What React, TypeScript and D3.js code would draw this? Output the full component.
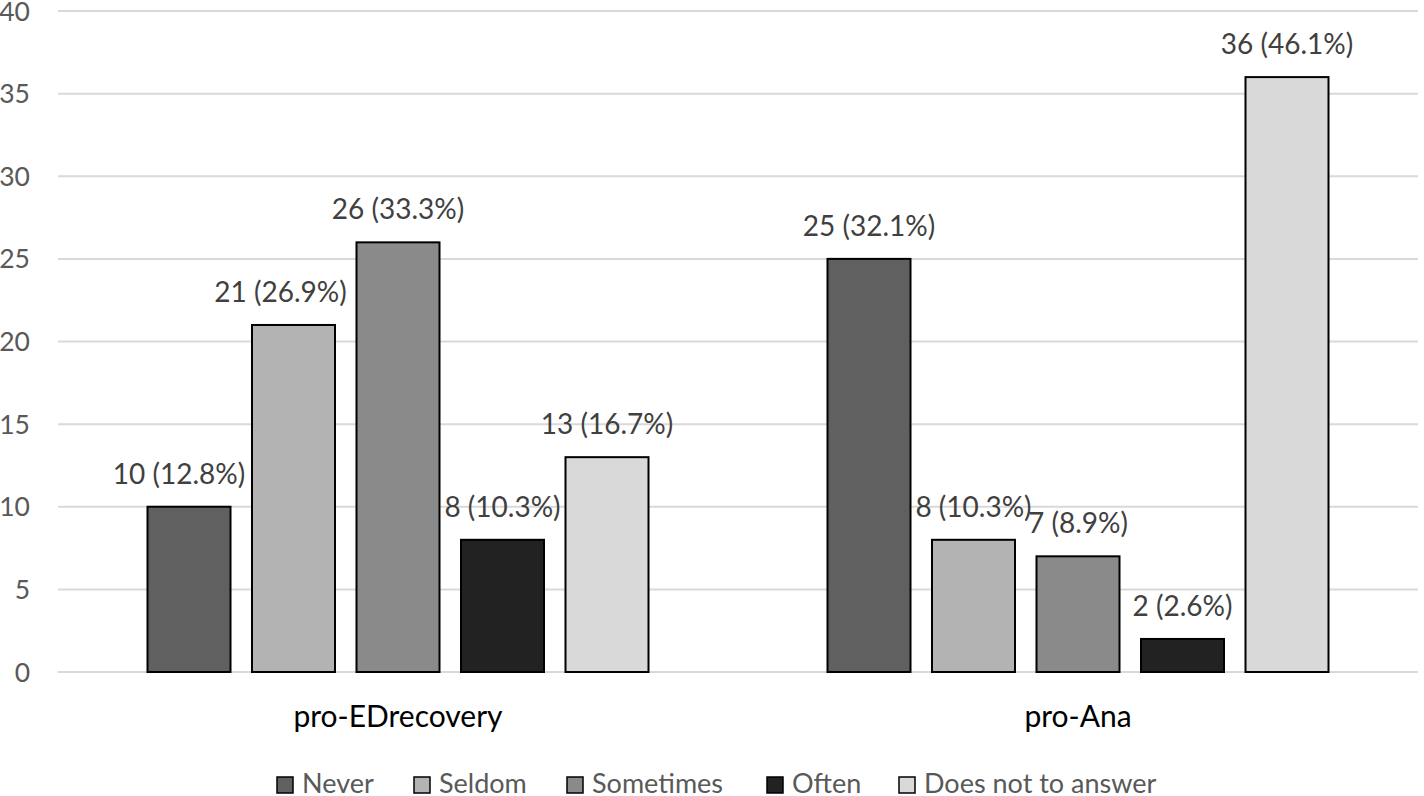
import React from "react";
import * as d3 from "d3";

const categories = ["pro-EDrecovery", "pro-Ana"];
const seriesNames = ["Never", "Seldom", "Sometimes", "Often", "Does not to answer"];
const seriesColors = ["#606060", "#b3b3b3", "#8a8a8a", "#222222", "#d9d9d9"];
const proEDrecovery = [10, 21, 26, 8, 13];
const proEDrecoveryPct = ["12.8%", "26.9%", "33.3%", "10.3%", "16.7%"];
const proAna = [25, 8, 7, 2, 36];
const proAnaPct = ["32.1%", "10.3%", "8.9%", "2.6%", "46.1%"];
const yTicks = [0, 5, 10, 15, 20, 25, 30, 35, 40];

const W = 1424;
const H = 796;
const FONT = "Lato, sans-serif";

// manual label nudges seen in the reference (group index -> series index -> dx)
const LABEL_NUDGE: Record<string, number> = { "0-0": -10, "0-1": -13 };

export default function App() {
  const left = 58;
  const right = 1418;
  const top = 11;
  const bottom = 672;
  const y = d3.scaleLinear().domain([0, 40]).range([bottom, top]);
  const x0 = d3.scaleBand<string>().domain(categories).range([left, right]).padding(0);
  const groupSpan = 501;
  const x1 = d3
    .scaleBand<string>()
    .domain(seriesNames)
    .range([0, groupSpan])
    .paddingInner(0.2057)
    .paddingOuter(0);
  const values = [proEDrecovery, proAna];
  const pcts = [proEDrecoveryPct, proAnaPct];

  const legendX = [277, 414, 567, 767, 899];

  return (
    <div style={{ position: "absolute", left: 0, top: 0 }}>
      <svg width={W} height={H} style={{ display: "block", background: "#fff" }}>
        {yTicks.map((t) => (
          <g key={t}>
            <line x1={left} x2={right} y1={y(t)} y2={y(t)} stroke="#d9d9d9" strokeWidth={2} />
            <text
              x={30}
              y={y(t)}
              dy="0.36em"
              textAnchor="end"
              fontFamily={FONT}
              fontSize={26.5}
              fill="#595959"
            >
              {t}
            </text>
          </g>
        ))}
        {categories.map((c, ci) => {
          const gx = (x0(c) as number) + x0.bandwidth() / 2 - groupSpan / 2;
          return (
            <g key={c} transform={`translate(${gx},0)`}>
              {seriesNames.map((s, si) => {
                const v = values[ci][si];
                const bx = x1(s) as number;
                const bw = x1.bandwidth();
                const nudge = LABEL_NUDGE[`${ci}-${si}`] || 0;
                return (
                  <g key={s}>
                    <rect
                      x={bx}
                      y={y(v)}
                      width={bw}
                      height={y(0) - y(v)}
                      fill={seriesColors[si]}
                      stroke="#000"
                      strokeWidth={2}
                    />
                    <text
                      x={bx + bw / 2 + nudge}
                      y={y(v) - 23}
                      textAnchor="middle"
                      fontFamily={FONT}
                      fontSize={28}
                      fill="#404040"
                    >
                      {`${v} (${pcts[ci][si]})`}
                    </text>
                  </g>
                );
              })}
            </g>
          );
        })}
        {categories.map((c) => (
          <text
            key={c}
            x={(x0(c) as number) + x0.bandwidth() / 2}
            y={727}
            textAnchor="middle"
            fontFamily={FONT}
            fontSize={30}
            fill="#000"
          >
            {c}
          </text>
        ))}
        {seriesNames.map((s, si) => (
          <g key={s} transform={`translate(${legendX[si]},777)`}>
            <rect x={0} y={0} width={16} height={16} fill={seriesColors[si]} stroke="#000" strokeWidth={1.5} />
            <text x={25} y={16} fontFamily={FONT} fontSize={27} fill="#595959">
              {s}
            </text>
          </g>
        ))}
      </svg>
    </div>
  );
}
